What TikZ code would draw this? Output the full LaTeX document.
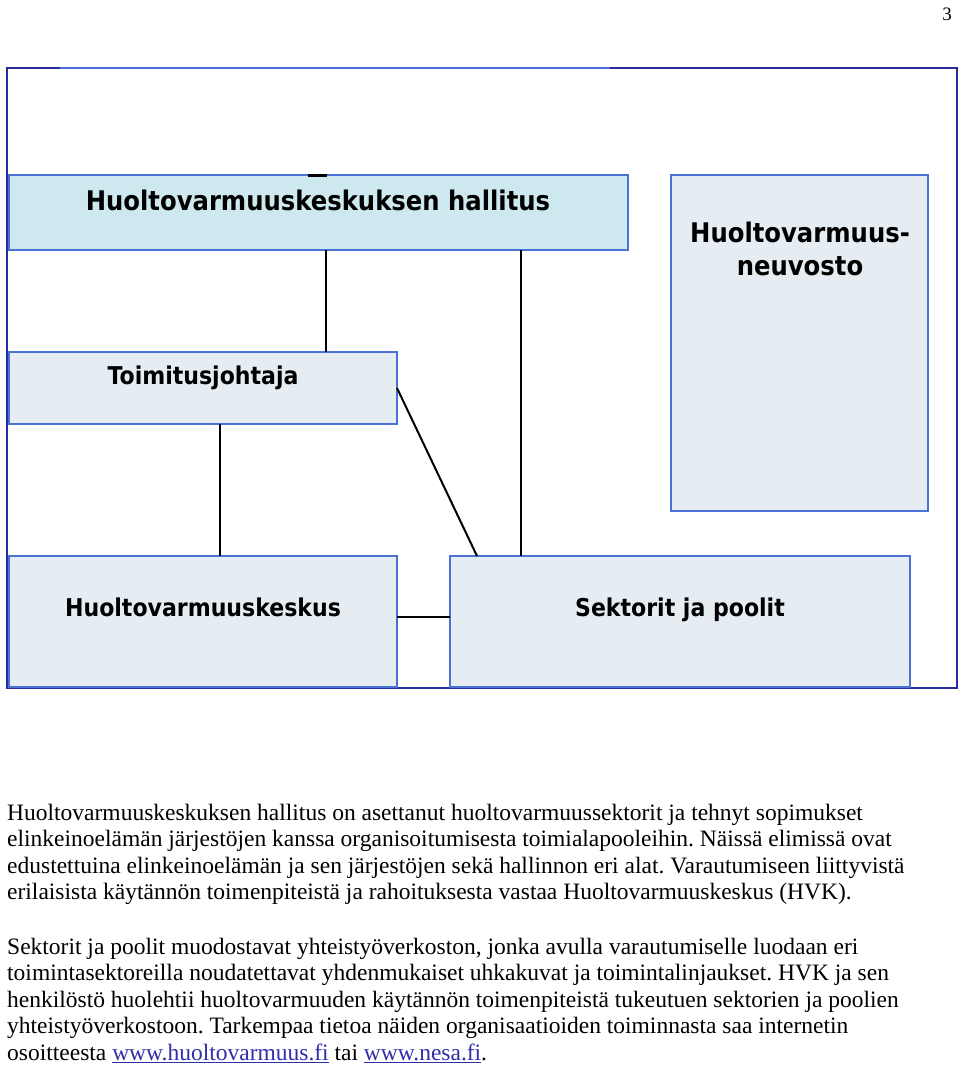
\documentclass[tikz,border=0pt]{standalone}
\usepackage{fontspec}
\setmainfont{Liberation Serif}
\newfontfamily\boxfont[FakeStretch=0.9]{DejaVu Sans}
\definecolor{framecol}{HTML}{2B2BA0}
\definecolor{topcol}{HTML}{4A6CD6}
\definecolor{boxborder}{HTML}{4A72D4}
\definecolor{fillA}{HTML}{CDE8EE}
\definecolor{fillB}{HTML}{E6EDF2}
\definecolor{linkcol}{HTML}{2F2FAA}
\tikzset{
  orgbox/.style={draw=boxborder, line width=2pt, fill=fillB, inner sep=0pt, outer sep=0pt, rectangle},
  boxtext/.style={font=\boxfont\bfseries\fontsize{27}{32.4}\selectfont, inner sep=0pt, anchor=base},
  smallboxtext/.style={font=\boxfont\bfseries\fontsize{24.5}{29}\selectfont, inner sep=0pt, anchor=base},
  bodyline/.style={font=\frenchspacing\fontsize{23.5}{27}\selectfont, inner sep=0pt, anchor=base west},
  conn/.style={draw=black, line width=2pt}
}
\newcommand{\lnk}[1]{\textcolor{linkcol}{\underline{#1}}}
\begin{document}
\begin{tikzpicture}[x=1pt,y=-1pt]
\useasboundingbox (0,0) rectangle (960,1069);
% page number
\node[font=\fontsize{19}{22}\selectfont, inner sep=0pt, anchor=base] (pg) at (947,20) {3};
% frame
\draw[framecol, line width=2pt] (7,68) rectangle (957,688);
\draw[topcol, line width=2pt] (60,68) -- (610,68);
% boxes
\node[orgbox, fill=fillA, minimum width=619pt, minimum height=75pt] (b1) at (318.5,212.5) {};
\node[orgbox, minimum width=257pt, minimum height=336pt] (nv) at (799.5,343) {};
\node[orgbox, minimum width=388pt, minimum height=72pt] (toim) at (203,388) {};
\node[orgbox, minimum width=388pt, minimum height=131pt] (hvk) at (203,621.5) {};
\node[orgbox, minimum width=460pt, minimum height=131pt] (sek) at (680,621.5) {};
% box texts
\node[boxtext] (t1) at (318,210) {Huoltovarmuuskeskuksen hallitus};
\node[boxtext, align=center] (t2) at (800,275) {Huoltovarmuus-\\neuvosto};
\node[smallboxtext] (t3) at (203,384) {Toimitusjohtaja};
\node[smallboxtext] (t4) at (203,616) {Huoltovarmuuskeskus};
\node[smallboxtext] (t5) at (680,616) {Sektorit ja poolit};
% connector helper coordinates
\coordinate (xa) at (326,0);
\coordinate (xb) at (521,0);
\coordinate (xc) at (220,0);
\coordinate (xd) at (477,0);
\coordinate (ye) at (0,617);
\coordinate (xf1) at (308,0);
\coordinate (xf2) at (327,0);
% connectors
\draw[conn] (b1.south -| xa) -- (toim.north -| xa);
\draw[conn] (b1.south -| xb) -- (sek.north -| xb);
\draw[conn] (toim.south -| xc) -- (hvk.north -| xc);
\draw[conn] (toim.east) -- (sek.north -| xd);
\draw[conn] (hvk.east |- ye) -- (sek.west |- ye);
\draw[conn, line width=3pt] (b1.north -| xf1) -- (b1.north -| xf2);
% body text
\node[bodyline] (p1) at (7,820) {Huoltovarmuuskeskuksen hallitus on asettanut huoltovarmuussektorit ja tehnyt sopimukset};
\node[bodyline] (p2) at (7,846.5) {elinkeinoelämän järjestöjen kanssa organisoitumisesta toimialapooleihin. Näissä elimissä ovat};
\node[bodyline] (p3) at (7,873) {edustettuina elinkeinoelämän ja sen järjestöjen sekä hallinnon eri alat. Varautumiseen liittyvistä};
\node[bodyline] (p4) at (7,899.5) {erilaisista käytännön toimenpiteistä ja rahoituksesta vastaa Huoltovarmuuskeskus (HVK).};
\node[bodyline] (q1) at (7,954) {Sektorit ja poolit muodostavat yhteistyöverkoston, jonka avulla varautumiselle luodaan eri};
\node[bodyline] (q2) at (7,980.5) {toimintasektoreilla noudatettavat yhdenmukaiset uhkakuvat ja toimintalinjaukset. HVK ja sen};
\node[bodyline] (q3) at (7,1007) {henkilöstö huolehtii huoltovarmuuden käytännön toimenpiteistä tukeutuen sektorien ja poolien};
\node[bodyline] (q4) at (7,1033.5) {yhteistyöverkostoon. Tarkempaa tietoa näiden organisaatioiden toiminnasta saa internetin};
\node[bodyline] (q5) at (7,1060) {osoitteesta \lnk{www.huoltovarmuus.fi} tai \lnk{www.nesa.fi}.};
\end{tikzpicture}
\end{document}
